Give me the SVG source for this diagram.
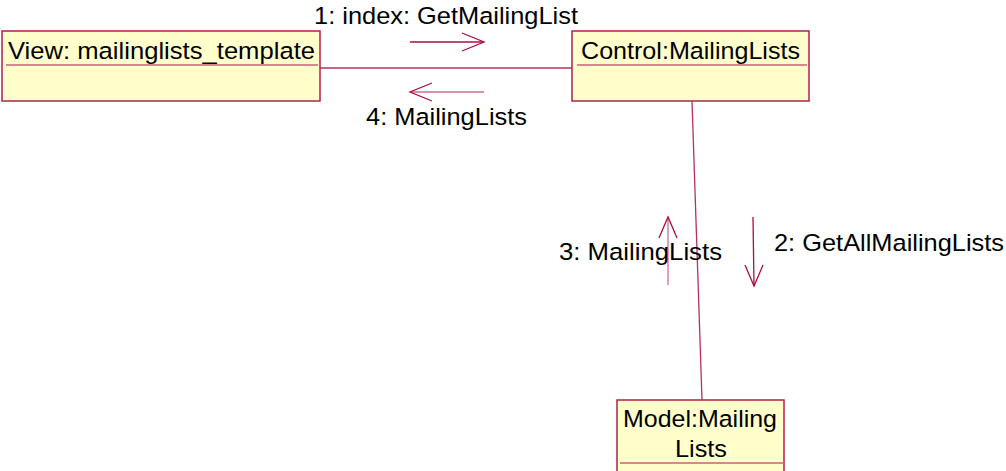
<svg xmlns="http://www.w3.org/2000/svg" width="1006" height="471" viewBox="0 0 1006 471">
<style>
.box{fill:#FFFFCC;stroke:#B0204F;stroke-width:1.5}
.sep{stroke:#C8607A;stroke-width:1.5}
.lbl{font-family:"Liberation Sans",Arial,sans-serif;font-size:24.5px;fill:#000}
.conn{stroke:#B8305E;stroke-width:1.3;fill:none}
.arr{stroke:#A8103F;stroke-width:1.3;fill:none}
.arr2{stroke:#C8708E;stroke-width:1.3;fill:none}
</style>
<rect width="1006" height="471" fill="#FFFFFF"/>
<g id="connectors">
<line class="conn" x1="320" y1="68" x2="572" y2="68"/>
<line class="conn" x1="692" y1="101" x2="702" y2="400"/>
</g>
<g id="messages">
<g id="msg1">
<line class="arr" x1="410" y1="42" x2="484" y2="42"/>
<polyline class="arr" points="462,33 484,42 462,51"/>
<text class="lbl" x="314" y="24" textLength="264" lengthAdjust="spacingAndGlyphs">1: index: GetMailingList</text>
</g>
<g id="msg4">
<line class="arr2" x1="484" y1="92" x2="410" y2="92"/>
<polyline class="arr" points="432,83 410,92 432,101"/>
<text class="lbl" x="366" y="125" textLength="161" lengthAdjust="spacingAndGlyphs">4: MailingLists</text>
</g>
<g id="msg2">
<line class="arr" x1="753" y1="217" x2="754" y2="286"/>
<polyline class="arr" points="745,265 754,286 763,265"/>
<text class="lbl" x="774" y="251" textLength="230" lengthAdjust="spacingAndGlyphs">2: GetAllMailingLists</text>
</g>
<g id="msg3">
<line class="arr2" x1="668" y1="285" x2="668" y2="217"/>
<polyline class="arr" points="659,238 668,217 677,238"/>
<text class="lbl" x="559" y="260" textLength="163" lengthAdjust="spacingAndGlyphs">3: MailingLists</text>
</g>
</g>
<g id="view">
<rect class="box" x="2" y="31" width="318" height="70"/>
<line class="sep" x1="6" y1="65" x2="318" y2="65"/>
<text class="lbl" x="8" y="59" textLength="307" lengthAdjust="spacingAndGlyphs">View: mailinglists_template</text>
</g>
<g id="control">
<rect class="box" x="572" y="31" width="237" height="70"/>
<line class="sep" x1="577" y1="65" x2="807" y2="65"/>
<text class="lbl" x="581" y="59" textLength="219" lengthAdjust="spacingAndGlyphs">Control:MailingLists</text>
</g>
<g id="model">
<rect class="box" x="617" y="400" width="167" height="80"/>
<line class="sep" x1="620" y1="463" x2="784" y2="463"/>
<text class="lbl" x="623" y="427" textLength="154" lengthAdjust="spacingAndGlyphs">Model:Mailing</text>
<text class="lbl" x="675" y="457" textLength="52" lengthAdjust="spacingAndGlyphs">Lists</text>
</g>
</svg>
